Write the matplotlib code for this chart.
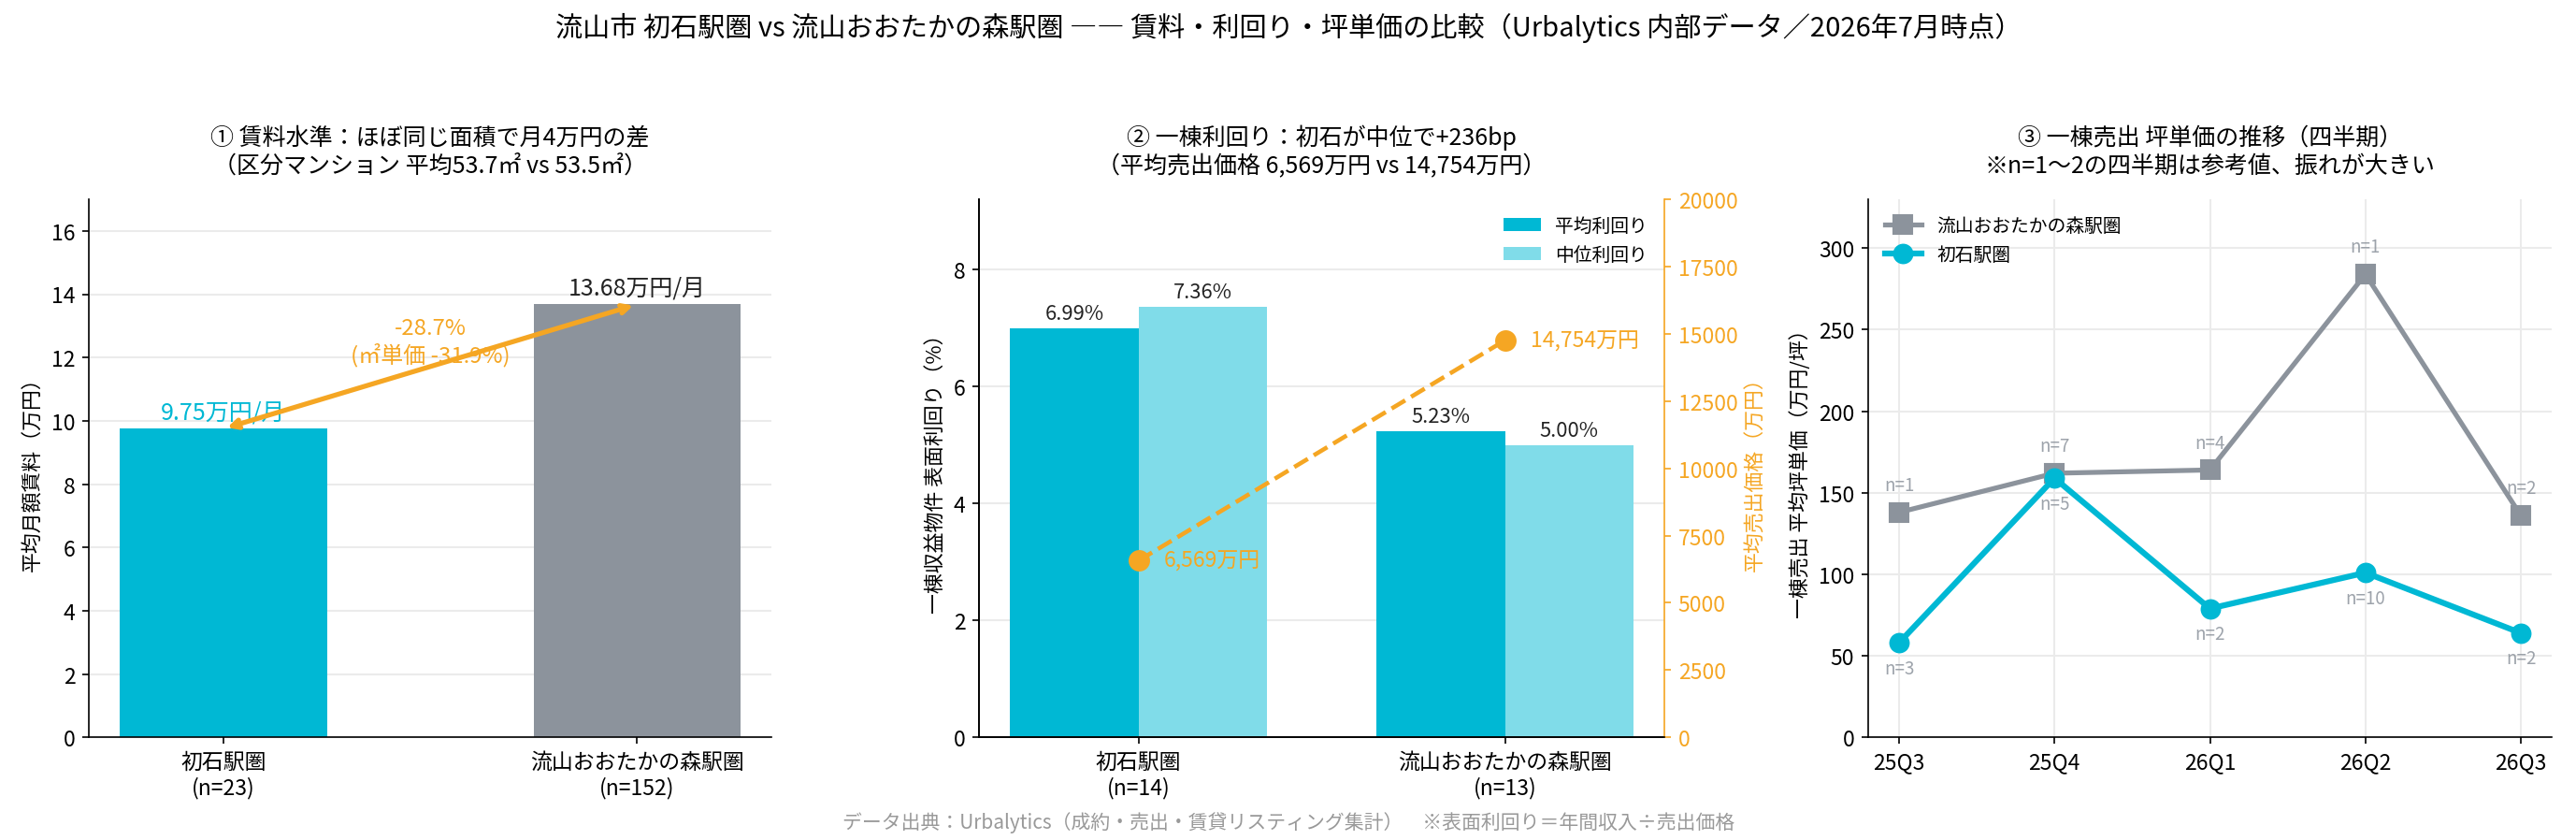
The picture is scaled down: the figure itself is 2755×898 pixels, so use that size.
import numpy as np
import matplotlib
matplotlib.use("Agg")
import matplotlib.pyplot as plt

plt.rcParams['font.family'] = ['Noto Sans CJK JP', 'DejaVu Sans']

CYAN = '#00B8D4'
LIGHT = '#80DCE9'
GRAY = '#8C939C'
ORANGE = '#F5A623'

# panel 1: rent
rent_labels = ['初石駅圏\n(n=23)', '流山おおたかの森駅圏\n(n=152)']
rent_vals = [9.75, 13.68]

# panel 2: yields
yield_labels = ['初石駅圏\n(n=14)', '流山おおたかの森駅圏\n(n=13)']
yield_avg = [6.99, 5.23]
yield_med = [7.36, 5.00]
price_avg = [6569, 14754]

# panel 3: tsubo price by quarter
quarters = ['25Q3', '25Q4', '26Q1', '26Q2', '26Q3']
otaka_tsubo = [138, 162, 164, 284, 136]
otaka_n = [1, 7, 4, 1, 2]
hatsu_tsubo = [58, 159, 79, 101, 64]
hatsu_n = [3, 5, 2, 10, 2]

fig = plt.figure(figsize=(18.37, 5.993), dpi=150)
ax1 = fig.add_axes([0.0345, 0.122, 0.265, 0.640])
ax2 = fig.add_axes([0.380, 0.122, 0.266, 0.640])
ax3 = fig.add_axes([0.725, 0.122, 0.2655, 0.640])

fig.suptitle('流山市 初石駅圏 vs 流山おおたかの森駅圏 ―― 賃料・利回り・坪単価の比較（Urbalytics 内部データ／2026年7月時点）',
             fontsize=14, y=0.985)

for ax in (ax1, ax2, ax3):
    ax.spines['top'].set_visible(False)
    ax.spines['right'].set_visible(False)
    ax.grid(axis='y', color='#EBEBEB', lw=1)
    ax.set_axisbelow(True)
    ax.tick_params(labelsize=11)

# ---- panel 1
x1 = np.arange(len(rent_vals))
ax1.bar(x1, rent_vals, width=0.5, color=[CYAN, GRAY])
ax1.set_ylim(0, 17)
ax1.set_xticks(x1)
ax1.set_xticklabels(rent_labels)
ax1.set_ylabel('平均月額賃料（万円）', fontsize=10.5)
ax1.set_title('① 賃料水準：ほぼ同じ面積で月4万円の差\n（区分マンション 平均53.7㎡ vs 53.5㎡）', fontsize=12, pad=14)
ax1.text(0, rent_vals[0] + 0.15, f'{rent_vals[0]:.2f}万円/月', ha='center', va='bottom', color=CYAN, fontsize=12)
ax1.text(1, rent_vals[1] + 0.15, f'{rent_vals[1]:.2f}万円/月', ha='center', va='bottom', color='#222222', fontsize=12)
ax1.annotate('', xy=(1, rent_vals[1]), xytext=(0, rent_vals[0]),
             arrowprops=dict(arrowstyle='<->', color=ORANGE, lw=2.5))
ax1.text(0.5, 12.5, '-28.7%\n(㎡単価 -31.9%)', ha='center', va='center', color=ORANGE, fontsize=11.5)

# ---- panel 2
x2 = np.arange(len(yield_avg))
w = 0.35
b1 = ax2.bar(x2 - w / 2, yield_avg, width=w, color=CYAN, label='平均利回り')
b2 = ax2.bar(x2 + w / 2, yield_med, width=w, color=LIGHT, label='中位利回り')
for bars in (b1, b2):
    for r in bars:
        ax2.text(r.get_x() + r.get_width() / 2, r.get_height() + 0.08, f'{r.get_height():.2f}%',
                 ha='center', va='bottom', fontsize=10.5, color='#222222')
ax2.set_ylim(0, 9.2)
ax2.set_yticks([0, 2, 4, 6, 8])
ax2.set_xticks(x2)
ax2.set_xticklabels(yield_labels)
ax2.set_ylabel('一棟収益物件 表面利回り（%）', fontsize=10.5)
ax2.set_title('② 一棟利回り：初石が中位で+236bp\n（平均売出価格 6,569万円 vs 14,754万円）', fontsize=12, pad=14)
ax2.legend(loc='upper right', frameon=False, fontsize=9.5)

ax2r = ax2.twinx()
ax2r.plot(x2, price_avg, color=ORANGE, ls='--', lw=2.2, marker='o', ms=10)
for xi, p in zip(x2, price_avg):
    ax2r.text(xi + 0.07, p, f'{p:,}万円', ha='left', va='center', color=ORANGE, fontsize=11)
ax2r.set_ylim(0, 20000)
ax2r.set_yticks(np.arange(0, 20001, 2500))
ax2r.tick_params(axis='y', colors=ORANGE, labelsize=11)
ax2r.spines['right'].set_color(ORANGE)
ax2r.spines['top'].set_visible(False)
ax2r.set_ylabel('平均売出価格（万円）', color=ORANGE, fontsize=10.5)

# ---- panel 3
x3 = np.arange(len(quarters))
ax3.plot(x3, otaka_tsubo, color=GRAY, lw=2.5, marker='s', ms=9.5, label='流山おおたかの森駅圏')
ax3.plot(x3, hatsu_tsubo, color=CYAN, lw=3, marker='o', ms=9.5, label='初石駅圏')
for xi, v, n in zip(x3, otaka_tsubo, otaka_n):
    ax3.annotate(f'n={n}', (xi, v), xytext=(0, 9), textcoords='offset points',
                 ha='center', va='bottom', color=GRAY, fontsize=9, alpha=0.85)
for xi, v, n in zip(x3, hatsu_tsubo, hatsu_n):
    ax3.annotate(f'n={n}', (xi, v), xytext=(0, -8), textcoords='offset points',
                 ha='center', va='top', color=GRAY, fontsize=9, alpha=0.85)
ax3.set_ylim(0, 330)
ax3.set_xticks(x3)
ax3.set_xticklabels(quarters)
ax3.grid(axis='x', color='#EBEBEB', lw=1)
ax3.set_ylabel('一棟売出 平均坪単価（万円/坪）', fontsize=10.5)
ax3.set_title('③ 一棟売出 坪単価の推移（四半期）\n※n=1〜2の四半期は参考値、振れが大きい', fontsize=12, pad=14)
ax3.legend(loc='upper left', frameon=False, fontsize=9.5)

fig.text(0.5, 0.022, 'データ出典：Urbalytics（成約・売出・賃貸リスティング集計）　※表面利回り＝年間収入÷売出価格',
         ha='center', va='center', color='#999999', fontsize=10)

fig.savefig('out.png', dpi=150)
